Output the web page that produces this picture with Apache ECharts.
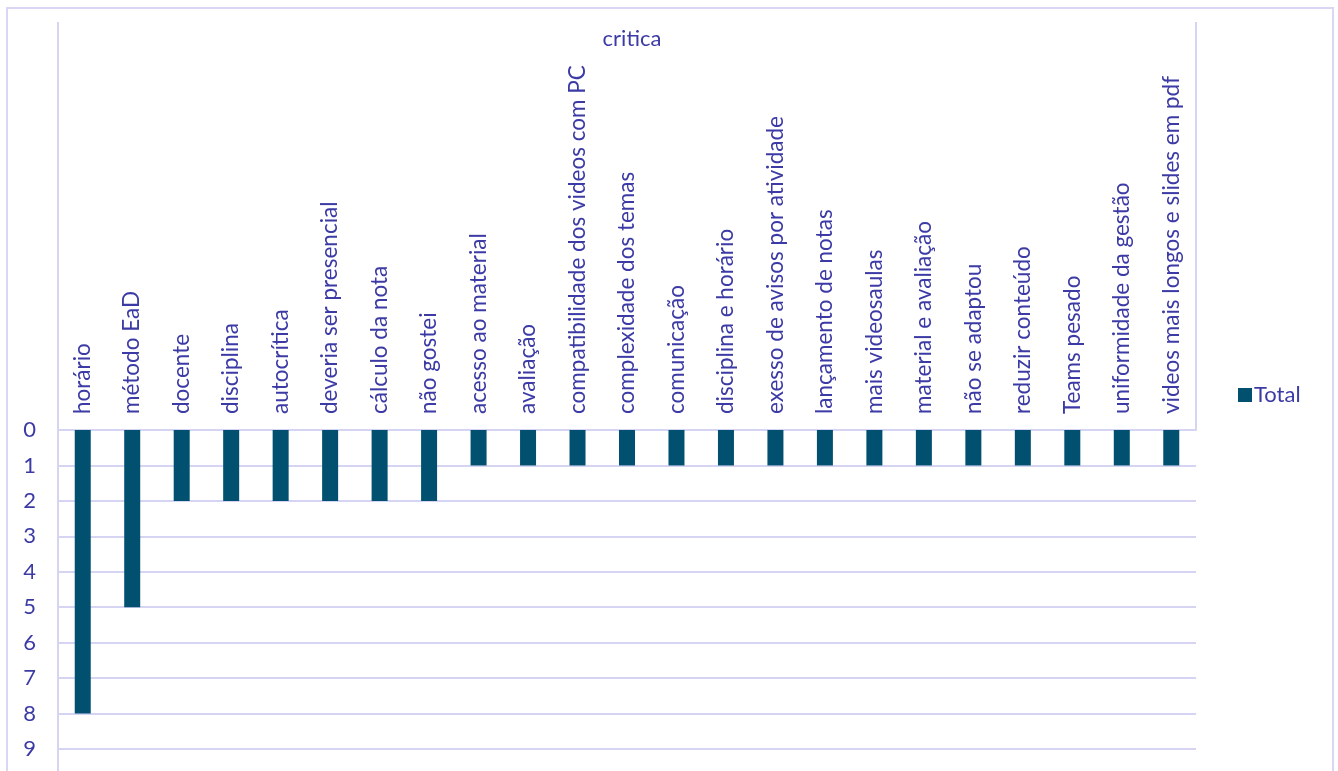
<!DOCTYPE html>
<html>
<head>
<meta charset="utf-8">
<script src="https://cdn.jsdelivr.net/npm/echarts@6/dist/echarts.min.js"></script>
<style>
  html, body { margin: 0; padding: 0; background: #ffffff; }
  #chart { width: 1338px; height: 771px; }
</style>
</head>
<body>
<div id="chart"></div>
<script>
// Respostas agrupadas por crítica
const categories = [
  'horário', 'método EaD', 'docente', 'disciplina', 'autocrítica',
  'deveria ser presencial', 'cálculo da nota', 'não gostei',
  'acesso ao material', 'avaliação', 'compatibilidade dos videos com PC',
  'complexidade dos temas', 'comunicação', 'disciplina e horário',
  'exesso de avisos por atividade', 'lançamento de notas', 'mais videosaulas',
  'material e avaliação', 'não se adaptou', 'reduzir conteúdo',
  'Teams pesado', 'uniformidade da gestão', 'videos mais longos e slides em pdf'
];
const totals = [8, 5, 2, 2, 2, 2, 2, 2, 1, 1, 1, 1, 1, 1, 1, 1, 1, 1, 1, 1, 1, 1, 1];
const valueTicks = [0, 1, 2, 3, 4, 5, 6, 7, 8, 9];

const textColor = '#3c3aa5';
const lineColor = '#d6d4f3';
const barColor = '#01506f';
const fontFamily = 'Lato, "Noto Sans", sans-serif';

const chart = echarts.init(document.getElementById('chart'), null, { renderer: 'canvas' });

const gridLeft = 58, gridRight = 1338 - 1196, gridTop = 430, gridBottom = 771 - 749;

chart.setOption({
  animation: false,
  backgroundColor: '#ffffff',
  title: {
    text: 'critica',
    left: (gridLeft + 1196) / 2,
    textAlign: 'center',
    top: 23,
    textStyle: { color: textColor, fontFamily, fontSize: 22, fontWeight: 'normal' }
  },
  legend: {
    data: ['Total'],
    left: 1238,
    top: 384,
    padding: 0,
    itemWidth: 14,
    itemHeight: 14,
    itemGap: 6,
    icon: 'rect',
    textStyle: { color: textColor, fontFamily, fontSize: 22, padding: [0, 0, 0, -3] }
  },
  grid: { left: gridLeft, right: gridRight, top: gridTop, bottom: gridBottom, containLabel: false },
  xAxis: {
    type: 'category',
    position: 'top',
    data: categories,
    axisLine: { show: true, lineStyle: { color: lineColor, width: 2 } },
    axisTick: { show: false },
    axisLabel: {
      rotate: 90,
      interval: 0,
      margin: 16,
      color: textColor,
      fontFamily,
      fontSize: 22.5
    },
    splitLine: { show: false }
  },
  yAxis: {
    type: 'value',
    inverse: true,
    min: valueTicks[0],
    max: valueTicks[valueTicks.length - 1],
    interval: 1,
    axisLine: { show: true, lineStyle: { color: lineColor, width: 2 } },
    axisTick: { show: false },
    axisLabel: {
      color: textColor,
      fontFamily,
      fontSize: 22,
      margin: 22,
      formatter: v => String(v)
    },
    splitLine: { show: true, lineStyle: { color: lineColor, width: 2 } }
  },
  series: [{
    name: 'Total',
    type: 'bar',
    data: totals,
    barWidth: 16,
    itemStyle: { color: barColor },
    emphasis: { disabled: true }
  }],
  graphic: [
    // moldura externa
    { type: 'rect', silent: true, shape: { x: 7, y: 8, width: 1326, height: 800 },
      style: { fill: null, stroke: '#d9d7f5', lineWidth: 2 } },
    // bordas da área de rótulos e continuação do eixo vertical
    { type: 'line', silent: true, shape: { x1: 58, y1: 22, x2: 58, y2: 430 },
      style: { stroke: lineColor, lineWidth: 2 } },
    { type: 'line', silent: true, shape: { x1: 58, y1: 749, x2: 58, y2: 771 },
      style: { stroke: lineColor, lineWidth: 2 } },
    { type: 'line', silent: true, shape: { x1: 1196, y1: 22, x2: 1196, y2: 430 },
      style: { stroke: lineColor, lineWidth: 2 } }
  ]
});
</script>
</body>
</html>
